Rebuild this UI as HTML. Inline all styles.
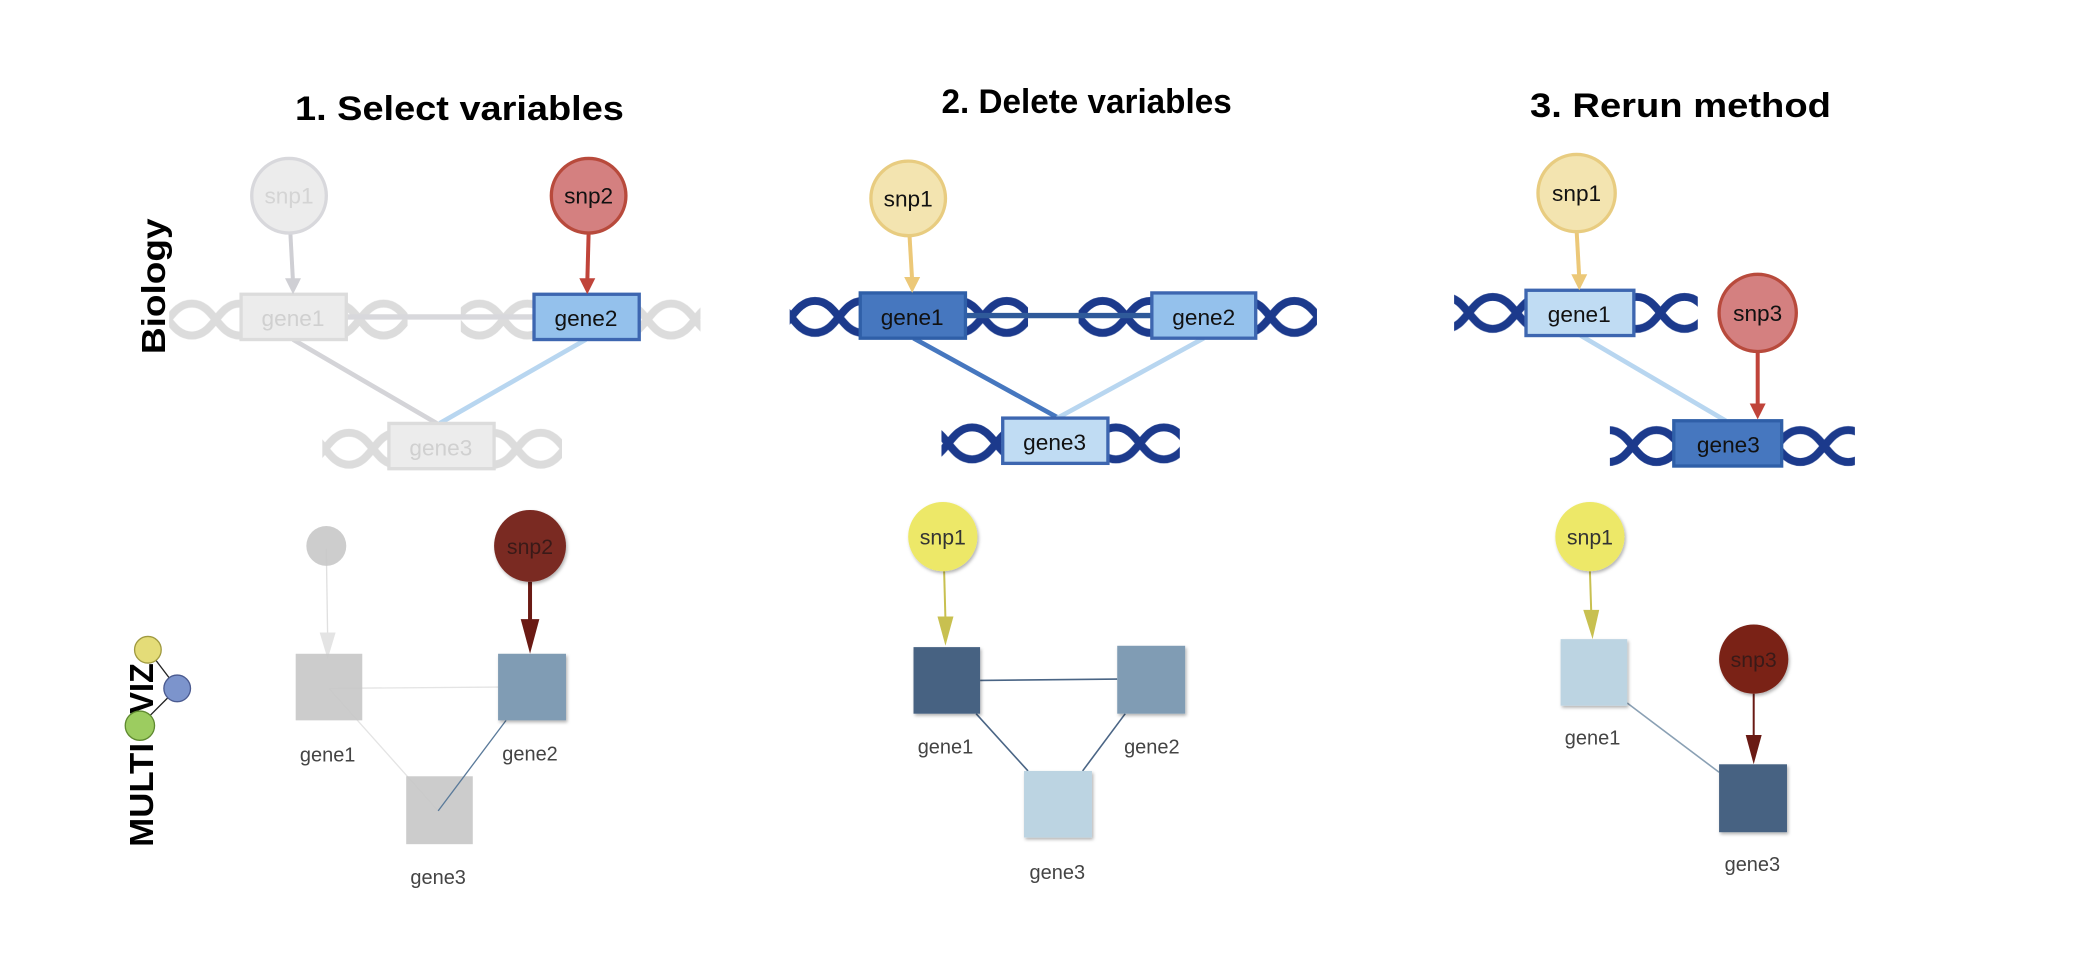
<!DOCTYPE html>
<html><head><meta charset="utf-8"><style>html,body{margin:0;padding:0;background:#fff}svg{display:block}</style></head>
<body>
<svg width="2088" height="976" viewBox="0 0 1568 733" xmlns="http://www.w3.org/2000/svg" font-family="Liberation Sans, sans-serif">
<defs>
<pattern id="hg" patternUnits="userSpaceOnUse" width="72" height="32" x="0" y="224">
<path d="M0,4 C17,4 19,28 36,28 C53,28 55,4 72,4 M0,28 C17,28 19,4 36,4 C53,4 55,28 72,28" fill="none" stroke="#dcdcdc" stroke-width="6"/>
</pattern>
<pattern id="hg3" patternUnits="userSpaceOnUse" width="72" height="32" x="10" y="321">
<path d="M0,4 C17,4 19,28 36,28 C53,28 55,4 72,4 M0,28 C17,28 19,4 36,4 C53,4 55,28 72,28" fill="none" stroke="#dcdcdc" stroke-width="6"/>
</pattern>
<pattern id="hn" patternUnits="userSpaceOnUse" width="72" height="32" x="0" y="222">
<path d="M0,4 C17,4 19,28 36,28 C53,28 55,4 72,4 M0,28 C17,28 19,4 36,4 C53,4 55,28 72,28" fill="none" stroke="#1c3a8c" stroke-width="6"/>
</pattern>
<pattern id="hn3" patternUnits="userSpaceOnUse" width="72" height="32" x="10" y="317">
<path d="M0,4 C17,4 19,28 36,28 C53,28 55,4 72,4 M0,28 C17,28 19,4 36,4 C53,4 55,28 72,28" fill="none" stroke="#1c3a8c" stroke-width="6"/>
</pattern>
<pattern id="hn3b" patternUnits="userSpaceOnUse" width="72" height="32" x="20" y="319">
<path d="M0,4 C17,4 19,28 36,28 C53,28 55,4 72,4 M0,28 C17,28 19,4 36,4 C53,4 55,28 72,28" fill="none" stroke="#1c3a8c" stroke-width="6"/>
</pattern>
<pattern id="hn1" patternUnits="userSpaceOnUse" width="72" height="32" x="5" y="219">
<path d="M0,4 C17,4 19,28 36,28 C53,28 55,4 72,4 M0,28 C17,28 19,4 36,4 C53,4 55,28 72,28" fill="none" stroke="#1c3a8c" stroke-width="6"/>
</pattern>
<filter id="sh" x="-20%" y="-20%" width="150%" height="150%"><feDropShadow dx="1" dy="1.5" stdDeviation="1.2" flood-color="#000" flood-opacity="0.3"/></filter>
</defs>

<text x="345" y="90" font-size="26" font-weight="bold" text-anchor="middle" textLength="247" lengthAdjust="spacingAndGlyphs">1. Select variables</text>
<text x="816" y="85" font-size="26" font-weight="bold" text-anchor="middle" textLength="218" lengthAdjust="spacingAndGlyphs">2. Delete variables</text>
<text x="1262" y="88" font-size="26" font-weight="bold" text-anchor="middle" textLength="226" lengthAdjust="spacingAndGlyphs">3. Rerun method</text>

<text transform="translate(124,215) rotate(-90)" font-size="25" font-weight="bold" text-anchor="middle" textLength="102" lengthAdjust="spacingAndGlyphs">Biology</text>
<text transform="translate(115,597) rotate(-90)" font-size="25" font-weight="bold" text-anchor="middle" textLength="78" lengthAdjust="spacingAndGlyphs">MULTI</text>
<text transform="translate(115,517) rotate(-90)" font-size="25" font-weight="bold" text-anchor="middle" textLength="38" lengthAdjust="spacingAndGlyphs">VIZ</text>
<line x1="111" y1="488" x2="133" y2="517" stroke="#222" stroke-width="1"/>
<line x1="133" y1="517" x2="105" y2="545" stroke="#222" stroke-width="1"/>
<circle cx="111" cy="488" r="10" fill="#e4dc78" stroke="#a09a40"/>
<circle cx="133" cy="517" r="10" fill="#7c94cc" stroke="#4a5a90"/>
<circle cx="105" cy="545" r="11" fill="#9ccc60" stroke="#5f8a30"/>

<!-- Panel 1 Biology -->
<rect x="127" y="224" width="54" height="32" fill="url(#hg)"/>
<rect x="260" y="224" width="46" height="32" fill="url(#hg)"/>
<rect x="346" y="224" width="55" height="32" fill="url(#hg)"/>
<rect x="480" y="224" width="46" height="32" fill="url(#hg)"/>
<rect x="242" y="321" width="50" height="32" fill="url(#hg3)"/>
<rect x="371" y="321" width="51" height="32" fill="url(#hg3)"/>
<line x1="260" y1="238" x2="401" y2="238" stroke="#d8d8dc" stroke-width="4"/>
<line x1="220" y1="255" x2="328" y2="318" stroke="#d4d4d8" stroke-width="3.5"/>
<line x1="440" y1="255" x2="330" y2="318" stroke="#b8d6f0" stroke-width="3.5"/>
<rect x="181" y="221" width="79" height="34" fill="#ececec" stroke="#dcdcdc" stroke-width="2.5"/>
<text x="220" y="245" font-size="17" fill="#d0d0d0" text-anchor="middle">gene1</text>
<rect x="401" y="221" width="79" height="34" fill="#94c1ec" stroke="#3d66b0" stroke-width="2.5"/>
<text x="440" y="245" font-size="17" fill="#111" text-anchor="middle">gene2</text>
<rect x="292" y="318" width="79" height="34" fill="#ececec" stroke="#dcdcdc" stroke-width="2.5"/>
<text x="331" y="342" font-size="17" fill="#d0d0d0" text-anchor="middle">gene3</text>
<line x1="218" y1="175" x2="220" y2="212" stroke="#cfcfd4" stroke-width="3"/>
<polygon points="214,209 226,209 220,221" fill="#cfcfd4"/>
<circle cx="217" cy="147" r="28" fill="#ececec" stroke="#d8d8dc" stroke-width="2.5"/>
<text x="217" y="153" font-size="17" fill="#d4d4d4" text-anchor="middle">snp1</text>
<line x1="442" y1="175" x2="441" y2="212" stroke="#c0443a" stroke-width="3"/>
<polygon points="435,209 447,209 441,221" fill="#c0443a"/>
<circle cx="442" cy="147" r="28" fill="#d48080" stroke="#b84a3c" stroke-width="2.5"/>
<text x="442" y="153" font-size="17" fill="#111" text-anchor="middle">snp2</text>

<!-- Panel 2 Biology -->
<rect x="593" y="222" width="53" height="32" fill="url(#hn)"/>
<rect x="725" y="222" width="47" height="32" fill="url(#hn)"/>
<rect x="810" y="222" width="55" height="32" fill="url(#hn)"/>
<rect x="943" y="222" width="46" height="32" fill="url(#hn)"/>
<rect x="707" y="317" width="46" height="32" fill="url(#hn3)"/>
<rect x="832" y="317" width="54" height="32" fill="url(#hn3)"/>
<line x1="725" y1="237" x2="865" y2="237" stroke="#2f5a9a" stroke-width="4"/>
<line x1="686" y1="254" x2="795" y2="314" stroke="#4677bf" stroke-width="3.5"/>
<line x1="904" y1="254" x2="794" y2="314" stroke="#b8d6f0" stroke-width="3.5"/>
<rect x="646" y="220" width="79" height="34" fill="#4677bf" stroke="#2f5fa8" stroke-width="2.5"/>
<text x="685" y="244" font-size="17" fill="#111" text-anchor="middle">gene1</text>
<rect x="865" y="220" width="78" height="34" fill="#94c1ec" stroke="#3d66b0" stroke-width="2.5"/>
<text x="904" y="244" font-size="17" fill="#111" text-anchor="middle">gene2</text>
<rect x="753" y="314" width="79" height="34" fill="#c0dcf3" stroke="#3d66b0" stroke-width="2.5"/>
<text x="792" y="338" font-size="17" fill="#111" text-anchor="middle">gene3</text>
<line x1="683" y1="177" x2="685" y2="211" stroke="#ecc878" stroke-width="3"/>
<polygon points="679,208 691,208 685,220" fill="#ecc878"/>
<circle cx="682" cy="149" r="28" fill="#f3e4b0" stroke="#e8cc80" stroke-width="2.5"/>
<text x="682" y="155" font-size="17" fill="#111" text-anchor="middle">snp1</text>

<!-- Panel 3 Biology -->
<rect x="1092" y="219" width="54" height="32" fill="url(#hn1)"/>
<rect x="1227" y="219" width="48" height="32" fill="url(#hn1)"/>
<rect x="1209" y="319" width="48" height="32" fill="url(#hn3b)"/>
<rect x="1338" y="319" width="55" height="32" fill="url(#hn3b)"/>
<line x1="1187" y1="252" x2="1296" y2="316" stroke="#b8d6f0" stroke-width="3.5"/>
<rect x="1146" y="218" width="81" height="34" fill="#c0dcf3" stroke="#3d66b0" stroke-width="2.5"/>
<text x="1186" y="242" font-size="17" fill="#111" text-anchor="middle">gene1</text>
<rect x="1257" y="316" width="81" height="34" fill="#4677bf" stroke="#2f5fa8" stroke-width="2.5"/>
<text x="1298" y="340" font-size="17" fill="#111" text-anchor="middle">gene3</text>
<line x1="1184" y1="173" x2="1186" y2="209" stroke="#ecc878" stroke-width="3"/>
<polygon points="1180,206 1192,206 1186,218" fill="#ecc878"/>
<circle cx="1184" cy="145" r="29" fill="#f3e4b0" stroke="#e8cc80" stroke-width="2.5"/>
<text x="1184" y="151" font-size="17" fill="#111" text-anchor="middle">snp1</text>
<line x1="1320" y1="264" x2="1320" y2="306" stroke="#c0443a" stroke-width="3"/>
<polygon points="1314,303 1326,303 1320,315" fill="#c0443a"/>
<circle cx="1320" cy="235" r="29" fill="#d48080" stroke="#b84a3c" stroke-width="2.5"/>
<text x="1320" y="241" font-size="17" fill="#111" text-anchor="middle">snp3</text>

<!-- Panel 1 MULTIVIZ -->
<line x1="247" y1="517" x2="374" y2="516" stroke="#e4e4e4" stroke-width="1"/>
<line x1="247" y1="517" x2="329" y2="609" stroke="#e4e4e4" stroke-width="1"/>
<line x1="245" y1="412" x2="246" y2="478" stroke="#e0e0e0" stroke-width="1"/>
<polygon points="240,475 252,475 246,495" fill="#e4e4e4"/>
<rect x="222" y="491" width="50" height="50" fill="#c6c6c6" opacity="0.9"/>
<rect x="305" y="583" width="50" height="51" fill="#c6c6c6" opacity="0.9"/>
<line x1="380" y1="541" x2="329" y2="609" stroke="#5a7a9a" stroke-width="1"/>
<rect x="374" y="491" width="51" height="50" fill="#809cb4" filter="url(#sh)"/>
<circle cx="245" cy="410" r="15" fill="#c8c8c8" opacity="0.9"/>
<line x1="398" y1="437" x2="398" y2="470" stroke="#6a1a14" stroke-width="3"/>
<polygon points="391,465 405,465 398,491" fill="#6a1a14"/>
<circle cx="398" cy="410" r="27" fill="#7a2a24" filter="url(#sh)"/>
<text x="398" y="416" font-size="16" fill="#3a1a18" text-anchor="middle">snp2</text>
<text x="246" y="572" font-size="15" fill="#444" text-anchor="middle">gene1</text>
<text x="398" y="571" font-size="15" fill="#444" text-anchor="middle">gene2</text>
<text x="329" y="664" font-size="15" fill="#444" text-anchor="middle">gene3</text>

<!-- Panel 2 MULTIVIZ -->
<line x1="736" y1="511" x2="839" y2="510" stroke="#4a6585" stroke-width="1.2"/>
<line x1="733" y1="536" x2="772" y2="579" stroke="#4a6585" stroke-width="1.2"/>
<line x1="845" y1="536" x2="813" y2="579" stroke="#4a6585" stroke-width="1.2"/>
<line x1="709" y1="429" x2="710" y2="466" stroke="#c8c050" stroke-width="1.5"/>
<polygon points="704,463 716,463 710,485" fill="#c8c050"/>
<rect x="686" y="486" width="50" height="50" fill="#466282" filter="url(#sh)"/>
<rect x="839" y="485" width="51" height="51" fill="#809cb4" filter="url(#sh)"/>
<rect x="769" y="579" width="51" height="50" fill="#bcd4e2" filter="url(#sh)"/>
<circle cx="708" cy="403" r="26" fill="#ede868" filter="url(#sh)"/>
<text x="708" y="409" font-size="16" fill="#333" text-anchor="middle">snp1</text>
<text x="710" y="566" font-size="15" fill="#444" text-anchor="middle">gene1</text>
<text x="865" y="566" font-size="15" fill="#444" text-anchor="middle">gene2</text>
<text x="794" y="660" font-size="15" fill="#444" text-anchor="middle">gene3</text>

<!-- Panel 3 MULTIVIZ -->
<line x1="1222" y1="528" x2="1291" y2="580" stroke="#8aa0b4" stroke-width="1.2"/>
<line x1="1194" y1="429" x2="1195" y2="460" stroke="#c8c050" stroke-width="1.5"/>
<polygon points="1189,458 1201,458 1196,480" fill="#c8c050"/>
<rect x="1172" y="480" width="50" height="50" fill="#bcd4e2" filter="url(#sh)"/>
<line x1="1317" y1="521" x2="1317" y2="555" stroke="#6a1a14" stroke-width="1.5"/>
<polygon points="1311,552 1323,552 1317,574" fill="#6a1a14"/>
<rect x="1291" y="574" width="51" height="51" fill="#466282" filter="url(#sh)"/>
<circle cx="1194" cy="403" r="26" fill="#ede868" filter="url(#sh)"/>
<text x="1194" y="409" font-size="16" fill="#333" text-anchor="middle">snp1</text>
<circle cx="1317" cy="495" r="26" fill="#7a2218" filter="url(#sh)"/>
<text x="1317" y="501" font-size="16" fill="#3a1a18" text-anchor="middle">snp3</text>
<text x="1196" y="559" font-size="15" fill="#444" text-anchor="middle">gene1</text>
<text x="1316" y="654" font-size="15" fill="#444" text-anchor="middle">gene3</text>
</svg>
</body></html>
